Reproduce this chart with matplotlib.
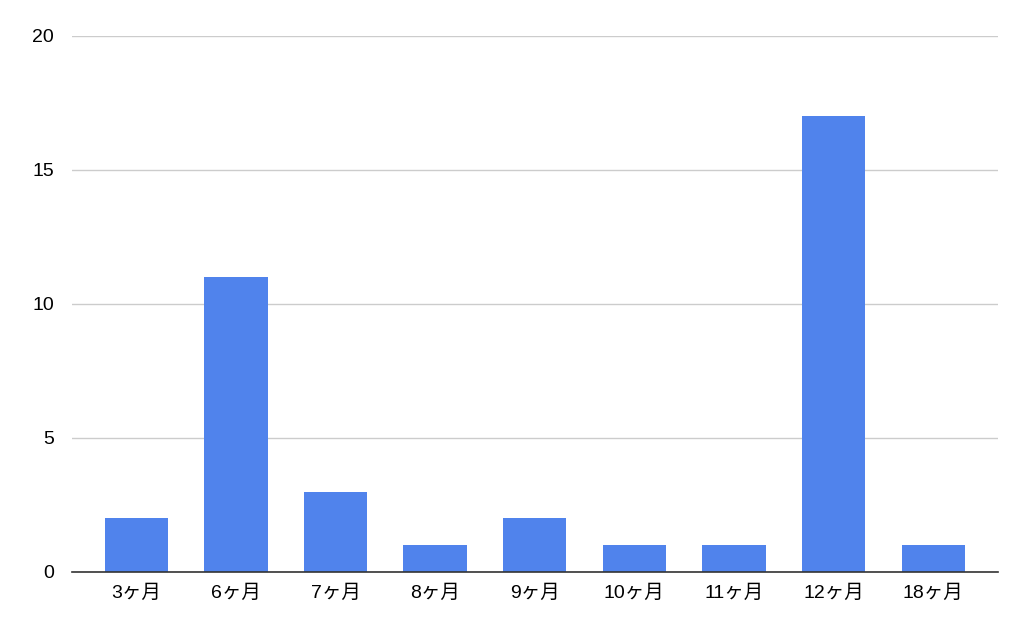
import matplotlib
matplotlib.use("Agg")
import matplotlib.pyplot as plt

categories = ["3ヶ月", "6ヶ月", "7ヶ月", "8ヶ月", "9ヶ月", "10ヶ月", "11ヶ月", "12ヶ月", "18ヶ月"]
values = [2, 11, 3, 1, 2, 1, 1, 17, 1]
yticks = [0, 5, 10, 15, 20]

plt.rcParams['font.family'] = ['Liberation Sans', 'Noto Sans CJK JP', 'DejaVu Sans']

fig = plt.figure(figsize=(10.24, 6.29), dpi=100)
ax = fig.add_axes([72/1024, 57/629, (998-72)/1024, (572-36)/629])

x = list(range(len(categories)))
ax.bar(x, values, width=0.635, color="#5083EC", zorder=3)
ax.set_xlim(-0.645, len(categories) - 1 + 0.65)
ax.set_ylim(0, 20)
ax.set_yticks(yticks)
ax.set_yticklabels([str(v) for v in yticks], fontsize=14)
ax.set_xticks(x)
ax.set_xticklabels(categories, fontsize=14)
ax.grid(axis="y", color="#cccccc", linewidth=1, zorder=0)
for s in ["top", "right", "left"]:
    ax.spines[s].set_visible(False)
ax.spines["bottom"].set_color("#333333")
ax.spines["bottom"].set_linewidth(1.2)
ax.spines["bottom"].set_zorder(4)
ax.tick_params(axis="both", length=0, colors="#000000")
ax.tick_params(axis="y", pad=13)
ax.tick_params(axis="x", pad=9)

fig.savefig("out.png", dpi=100, facecolor="white")
